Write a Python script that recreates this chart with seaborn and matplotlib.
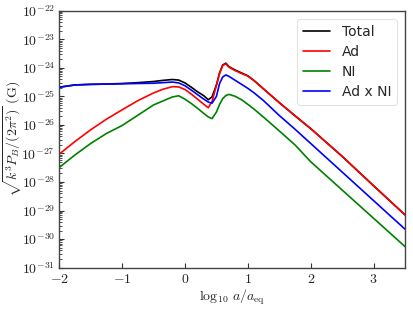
import numpy as np
import pandas as pd
import matplotlib
matplotlib.use("Agg")
import matplotlib.pyplot as plt
import matplotlib.ticker as mticker
import seaborn as sns

# ---- data (log10 of sqrt(k^3 P_B / 2pi^2) in G) ----
log_a = [-2.0, -1.75, -1.5, -1.25, -1.0, -0.75, -0.5, -0.35, -0.2, -0.1, 0.0, 0.1, 0.2,
         0.3, 0.37, 0.43, 0.5, 0.55, 0.6, 0.65, 0.7, 0.8, 0.9, 1.0, 1.1, 1.25, 1.5,
         1.75, 2.0, 2.5, 3.0, 3.5]

total = [-24.68, -24.60, -24.58, -24.57, -24.55, -24.52, -24.48, -24.44, -24.41, -24.43,
         -24.53, -24.68, -24.84, -24.98, -25.12, -25.02, -24.60, -24.18, -23.90, -23.84,
         -23.96, -24.08, -24.18, -24.28, -24.45, -24.74, -25.22, -25.68, -26.13, -27.10,
         -28.13, -29.15]

ad = [-27.02, -26.58, -26.17, -25.80, -25.47, -25.15, -24.88, -24.75, -24.66, -24.67,
      -24.76, -24.92, -25.10, -25.28, -25.40, -25.18, -24.62, -24.20, -23.92, -23.86,
      -23.98, -24.10, -24.20, -24.29, -24.45, -24.74, -25.22, -25.68, -26.13, -27.10,
      -28.13, -29.15]

ni = [-27.49, -27.05, -26.65, -26.30, -26.02, -25.66, -25.30, -25.16, -25.02, -24.98,
      -25.10, -25.25, -25.42, -25.60, -25.72, -25.78, -25.55, -25.28, -25.08, -24.97,
      -24.93, -25.00, -25.12, -25.28, -25.45, -25.73, -26.21, -26.70, -27.29, -28.28,
      -29.27, -30.26]

adxni = [-24.68, -24.60, -24.58, -24.57, -24.56, -24.55, -24.54, -24.52, -24.50, -24.53,
         -24.63, -24.78, -24.94, -25.10, -25.20, -25.24, -25.00, -24.55, -24.32, -24.25,
         -24.30, -24.44, -24.58, -24.72, -24.88, -25.15, -25.67, -26.15, -26.65, -27.65,
         -28.65, -29.65]

series_names = ["Total", "Ad", "NI", "Ad x NI"]
series_colors = ["black", "red", "green", "blue"]
series_vals = [total, ad, ni, adxni]

frames = []
for name, vals in zip(series_names, series_vals):
    frames.append(pd.DataFrame({"x": log_a, "y": 10.0 ** np.array(vals), "series": name}))
df = pd.concat(frames, ignore_index=True)

sns.set_style("ticks")
plt.rcParams["font.family"] = ["DejaVu Sans"]
plt.rcParams["mathtext.fontset"] = "cm"

fig = plt.figure(figsize=(4.13, 3.09), dpi=100)
ax = fig.add_axes([0.1436, 0.1337, 0.8370, 0.8317])

sns.lineplot(data=df, x="x", y="y", hue="series", hue_order=series_names,
             palette=dict(zip(series_names, series_colors)), linewidth=1.2,
             ax=ax, sort=False, estimator=None)

ax.set_yscale("log")
ax.set_xlim(-2, 3.5)
ax.set_ylim(1e-31, 1e-22)

ax.yaxis.set_major_locator(mticker.LogLocator(base=10, numticks=20))
ax.yaxis.set_minor_locator(mticker.LogLocator(base=10, subs=np.arange(2, 10), numticks=100))
ax.yaxis.set_major_formatter(mticker.FuncFormatter(lambda v, p: r"$10^{%d}$" % round(np.log10(v))))
ax.yaxis.set_minor_formatter(mticker.NullFormatter())
ax.xaxis.set_major_locator(mticker.MultipleLocator(1))
ax.xaxis.set_major_formatter(mticker.FuncFormatter(lambda v, p: r"$%d$" % round(v)))

ax.tick_params(axis="both", which="both", direction="in", labelsize=10, color="#333333")
ax.tick_params(axis="both", which="major", length=3.5, pad=3)
ax.tick_params(axis="y", which="minor", length=2)

for s in ax.spines.values():
    s.set_color("#444444")
    s.set_linewidth(1.0)

ax.set_xlabel(r"$\log_{10}\, a/a_{\rm eq}$", fontsize=10, labelpad=1)
ax.set_ylabel(r"$\sqrt{k^3 P_B/(2\pi^2)}\ ({\rm G})$", fontsize=10)
ax.yaxis.set_label_coords(-0.103, 0.5)

leg = ax.legend(loc="upper right", fontsize=10, frameon=True, fancybox=True,
                handlelength=2.0, borderaxespad=0.6, labelspacing=0.45)
leg.get_frame().set_edgecolor("#dddddd")
leg.get_frame().set_linewidth(0.8)

fig.savefig("out.png", dpi=100)
